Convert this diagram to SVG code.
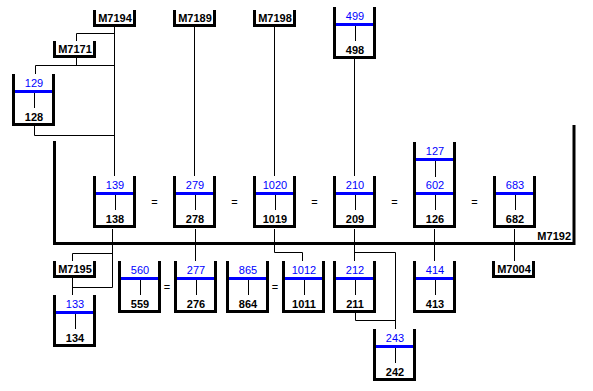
<svg xmlns="http://www.w3.org/2000/svg" xmlns:xlink="http://www.w3.org/1999/xlink" width="593" height="391" viewBox="0 0 593 391">
<style>
.wall{fill:none;stroke:#000;stroke-width:3}
.conn{fill:none;stroke:#000;stroke-width:1}
.lvl{fill:#0000ff}
.tb{font-family:"Liberation Sans",Arial,sans-serif;font-size:11px;font-weight:bold;fill:#000;text-anchor:middle}
.tn{font-family:"Liberation Sans",Arial,sans-serif;font-size:11px;fill:#0000ff;text-anchor:middle}
.eq{font-family:"Liberation Sans",Arial,sans-serif;font-size:11px;fill:#000;text-anchor:middle}
</style>
<defs>
<g id="cup">
<path class="wall" d="M1.5,0 V50.5 H41.5 V0"/>
<rect class="lvl" x="3" y="16" width="37" height="3"/>
<line class="conn" x1="22.5" y1="19" x2="22.5" y2="34"/>
</g>
<path id="mbox" class="wall" d="M1.5,0 V15.5 H41.5 V0"/>
</defs>
<rect width="593" height="391" fill="#fff"/>

<g id="connectors">
<path class="conn" d="M114.5,27 V176"/>
<path class="conn" d="M114.5,33.5 H76.5 V41"/>
<path class="conn" d="M76.5,58 V65.5 M35.5,74 V65.5 H114.5"/>
<path class="conn" d="M34.5,126 V135.5 H114.5"/>
<path class="conn" d="M194.5,27 V176"/>
<path class="conn" d="M274.5,27 V176"/>
<path class="conn" d="M354.5,59 V176"/>
<path class="conn" d="M112.5,229 V287.5 H72.5 M112.5,253.5 H72.5 V261 M72.5,278 V295"/>
<path class="conn" d="M195.5,229 V261"/>
<path class="conn" d="M274.5,229 V252.5 H302.5 V261"/>
<path class="conn" d="M354.5,229 V261 M354.5,252.5 H395.5 V329 M355.5,313 V320.5 H395.5"/>
<path class="conn" d="M434.5,229 V261"/>
<path class="conn" d="M514.5,229 V261"/>
</g>

<g id="M7192">
<path class="wall" d="M54.5,141 V243.5 H574 V125"/>
<text class="tb" x="571" y="240" style="text-anchor:end">M7192</text>
</g>

<g id="M7194" transform="translate(93,10)"><use xlink:href="#mbox"/><text class="tb" x="22" y="11.5">M7194</text></g>
<g id="M7189" transform="translate(173,10)"><use xlink:href="#mbox"/><text class="tb" x="22" y="11.5">M7189</text></g>
<g id="M7198" transform="translate(253,10)"><use xlink:href="#mbox"/><text class="tb" x="22" y="11.5">M7198</text></g>
<g id="M7171" transform="translate(53,41)"><use xlink:href="#mbox"/><text class="tb" x="22" y="11.5">M7171</text></g>
<g id="M7195" transform="translate(53,261)"><use xlink:href="#mbox"/><text class="tb" x="22" y="11.5">M7195</text></g>
<g id="M7004" transform="translate(492,261)"><use xlink:href="#mbox"/><text class="tb" x="22" y="11.5">M7004</text></g>

<g id="c128" transform="translate(12,74)"><use xlink:href="#cup"/><text class="tn" x="22" y="13">129</text><text class="tb" x="22" y="47">128</text></g>
<g id="c498" transform="translate(333,7)"><use xlink:href="#cup"/><text class="tn" x="22" y="13">499</text><text class="tb" x="22" y="47">498</text></g>

<g id="c138" transform="translate(93,176)"><use xlink:href="#cup"/><text class="tn" x="22" y="13">139</text><text class="tb" x="22" y="47">138</text></g>
<g id="c278" transform="translate(173,176)"><use xlink:href="#cup"/><text class="tn" x="22" y="13">279</text><text class="tb" x="22" y="47">278</text></g>
<g id="c1019" transform="translate(253,176)"><use xlink:href="#cup"/><text class="tn" x="22" y="13">1020</text><text class="tb" x="22" y="47">1019</text></g>
<g id="c209" transform="translate(333,176)"><use xlink:href="#cup"/><text class="tn" x="22" y="13">210</text><text class="tb" x="22" y="47">209</text></g>
<g id="c126" transform="translate(413,142)">
<path class="wall" d="M1.5,0 V84.5 H41.5 V0"/>
<rect class="lvl" x="3" y="16" width="37" height="3"/>
<rect class="lvl" x="3" y="50" width="37" height="3"/>
<line class="conn" x1="22.5" y1="19" x2="22.5" y2="35"/>
<line class="conn" x1="22.5" y1="53" x2="22.5" y2="68"/>
<text class="tn" x="22" y="13">127</text><text class="tn" x="22" y="47">602</text><text class="tb" x="22" y="81">126</text>
</g>
<g id="c682" transform="translate(493,176)"><use xlink:href="#cup"/><text class="tn" x="22" y="13">683</text><text class="tb" x="22" y="47">682</text></g>

<g id="eqs1">
<text class="eq" x="154.5" y="206">=</text>
<text class="eq" x="234.5" y="206">=</text>
<text class="eq" x="314.5" y="206">=</text>
<text class="eq" x="394.5" y="206">=</text>
<text class="eq" x="474.5" y="206">=</text>
</g>

<g id="c134" transform="translate(53,295)"><use xlink:href="#cup"/><text class="tn" x="22" y="13">133</text><text class="tb" x="22" y="47">134</text></g>
<g id="c559" transform="translate(118,261)"><use xlink:href="#cup"/><text class="tn" x="22" y="13">560</text><text class="tb" x="22" y="47">559</text></g>
<g id="c276" transform="translate(174,261)"><use xlink:href="#cup"/><text class="tn" x="22" y="13">277</text><text class="tb" x="22" y="47">276</text></g>
<g id="c864" transform="translate(226,261)"><use xlink:href="#cup"/><text class="tn" x="22" y="13">865</text><text class="tb" x="22" y="47">864</text></g>
<g id="c1011" transform="translate(282,261)"><use xlink:href="#cup"/><text class="tn" x="22" y="13">1012</text><text class="tb" x="22" y="47">1011</text></g>
<g id="c211" transform="translate(333,261)"><use xlink:href="#cup"/><text class="tn" x="22" y="13">212</text><text class="tb" x="22" y="47">211</text></g>
<g id="c413" transform="translate(413,261)"><use xlink:href="#cup"/><text class="tn" x="22" y="13">414</text><text class="tb" x="22" y="47">413</text></g>
<g id="c242" transform="translate(373,329)"><use xlink:href="#cup"/><text class="tn" x="22" y="13">243</text><text class="tb" x="22" y="47">242</text></g>

<g id="eqs2">
<text class="eq" x="167" y="291">=</text>
<text class="eq" x="275" y="291">=</text>
</g>
</svg>
